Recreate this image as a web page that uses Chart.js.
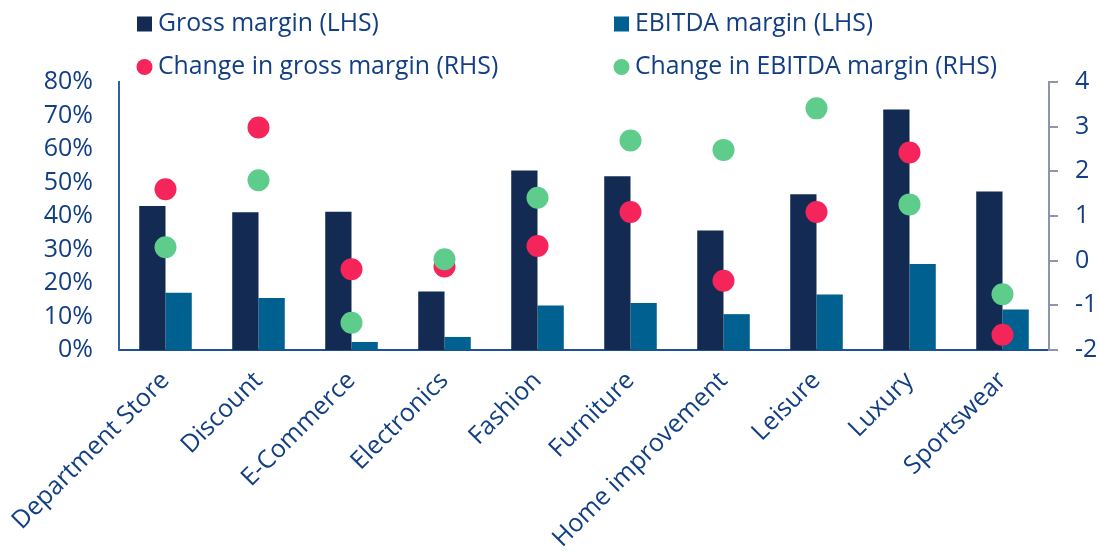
<!DOCTYPE html>
<html>
<head>
<meta charset="utf-8">
<script src="https://cdn.jsdelivr.net/npm/chart.js@4.4.1/dist/chart.umd.min.js"></script>
<style>
html,body{margin:0;padding:0;background:#fff;}
#wrap{position:relative;width:1099px;height:553px;}
</style>
</head>
<body>
<div id="wrap"><canvas id="c" width="1099" height="553"></canvas></div>
<script>
const categories = ["Department Store","Discount","E-Commerce","Electronics","Fashion","Furniture","Home improvement","Leisure","Luxury","Sportswear"];
const grossMargin = [43.0, 41.1, 41.3, 17.5, 53.6, 51.9, 35.7, 46.5, 71.8, 47.3];
const ebitdaMargin = [17.1, 15.5, 2.4, 3.9, 13.3, 14.0, 10.7, 16.6, 25.7, 12.1];
const changeGross = [1.60, 2.98, -0.19, -0.13, 0.33, 1.09, -0.45, 1.09, 2.42, -1.66];
const changeEbitda = [0.30, 1.80, -1.39, 0.03, 1.41, 2.69, 2.48, 3.41, 1.26, -0.75];
const leftTicks = [0,10,20,30,40,50,60,70,80];
const rightTicks = [-2,-1,0,1,2,3,4];
const seriesNames = ["Gross margin (LHS)","EBITDA margin (LHS)","Change in gross margin (RHS)","Change in EBITDA margin (RHS)"];

const C_GROSS = '#132b53', C_EBITDA = '#006090', C_RED = '#f5245a', C_GREEN = '#5ecc8a';
const TXT = '#123e84';
const FONT = '"Open Sans"';

const legendPlugin = {
  id: 'customLegend',
  afterDraw(chart) {
    const ctx = chart.ctx;
    ctx.save();
    ctx.font = '24.8px ' + FONT;
    ctx.fillStyle = TXT;
    ctx.textBaseline = 'middle';
    ctx.textAlign = 'left';
    const items = [
      {x: 137, y: 24, type: 'box', color: C_GROSS, text: seriesNames[0]},
      {x: 614, y: 24, type: 'box', color: C_EBITDA, text: seriesNames[1]},
      {x: 137, y: 67, type: 'dot', color: C_RED, text: seriesNames[2]},
      {x: 614, y: 67, type: 'dot', color: C_GREEN, text: seriesNames[3]}
    ];
    items.forEach(it => {
      ctx.fillStyle = it.color;
      if (it.type === 'box') {
        ctx.fillRect(it.x, it.y - 7.5, 15, 15);
      } else {
        ctx.beginPath();
        ctx.arc(it.x + 7.5, it.y, 8, 0, Math.PI * 2);
        ctx.fill();
      }
      ctx.fillStyle = TXT;
      ctx.fillText(it.text, it.x + 21, it.y);
    });
    ctx.restore();
  }
};

new Chart(document.getElementById('c'), {
  type: 'bar',
  data: {
    labels: categories,
    datasets: [
      {type: 'line', label: seriesNames[3], data: changeEbitda, yAxisID: 'y1', showLine: false,
       pointRadius: 11, pointHoverRadius: 11, pointBackgroundColor: C_GREEN, pointBorderWidth: 0, borderColor: C_GREEN, backgroundColor: C_GREEN, order: 0},
      {type: 'line', label: seriesNames[2], data: changeGross, yAxisID: 'y1', showLine: false,
       pointRadius: 11, pointHoverRadius: 11, pointBackgroundColor: C_RED, pointBorderWidth: 0, borderColor: C_RED, backgroundColor: C_RED, order: 1},
      {label: seriesNames[0], data: grossMargin, yAxisID: 'y', backgroundColor: C_GROSS, order: 2,
       categoryPercentage: 0.565, barPercentage: 1.0},
      {label: seriesNames[1], data: ebitdaMargin, yAxisID: 'y', backgroundColor: C_EBITDA, order: 3,
       categoryPercentage: 0.565, barPercentage: 1.0}
    ]
  },
  options: {
    responsive: false,
    animation: false,
    devicePixelRatio: 1,
    layout: {padding: {top: 82, left: 0, right: 0, bottom: 0}},
    plugins: {legend: {display: false}, tooltip: {enabled: false}},
    scales: {
      x: {
        grid: {display: false},
        border: {display: true, color: '#1d4f9c', width: 2},
        ticks: {color: TXT, font: {family: FONT, size: 25}, minRotation: 45, maxRotation: 45, padding: 8, autoSkip: false},
        afterFit(s) { s.height = 203; }
      },
      y: {
        position: 'left',
        min: 0, max: 80,
        afterBuildTicks(s) { s.ticks = leftTicks.map(v => ({value: v})); },
        grid: {display: false, drawTicks: false},
        border: {display: true, color: '#2f5fa8', width: 2},
        ticks: {color: TXT, font: {family: FONT, size: 25}, padding: 26, callback: v => v + '%'},
        afterFit(s) { s.width = 119; }
      },
      y1: {
        position: 'right',
        min: -2, max: 4,
        afterBuildTicks(s) { s.ticks = rightTicks.map(v => ({value: v})); },
        grid: {display: true, drawOnChartArea: false, drawTicks: true, tickLength: 9, color: '#8f94ad', lineWidth: 2},
        border: {display: true, color: '#8f94ad', width: 2},
        ticks: {color: TXT, font: {family: FONT, size: 25}, padding: 17},
        afterFit(s) { s.width = 50; }
      }
    }
  },
  plugins: [legendPlugin]
});
</script>
</body>
</html>
